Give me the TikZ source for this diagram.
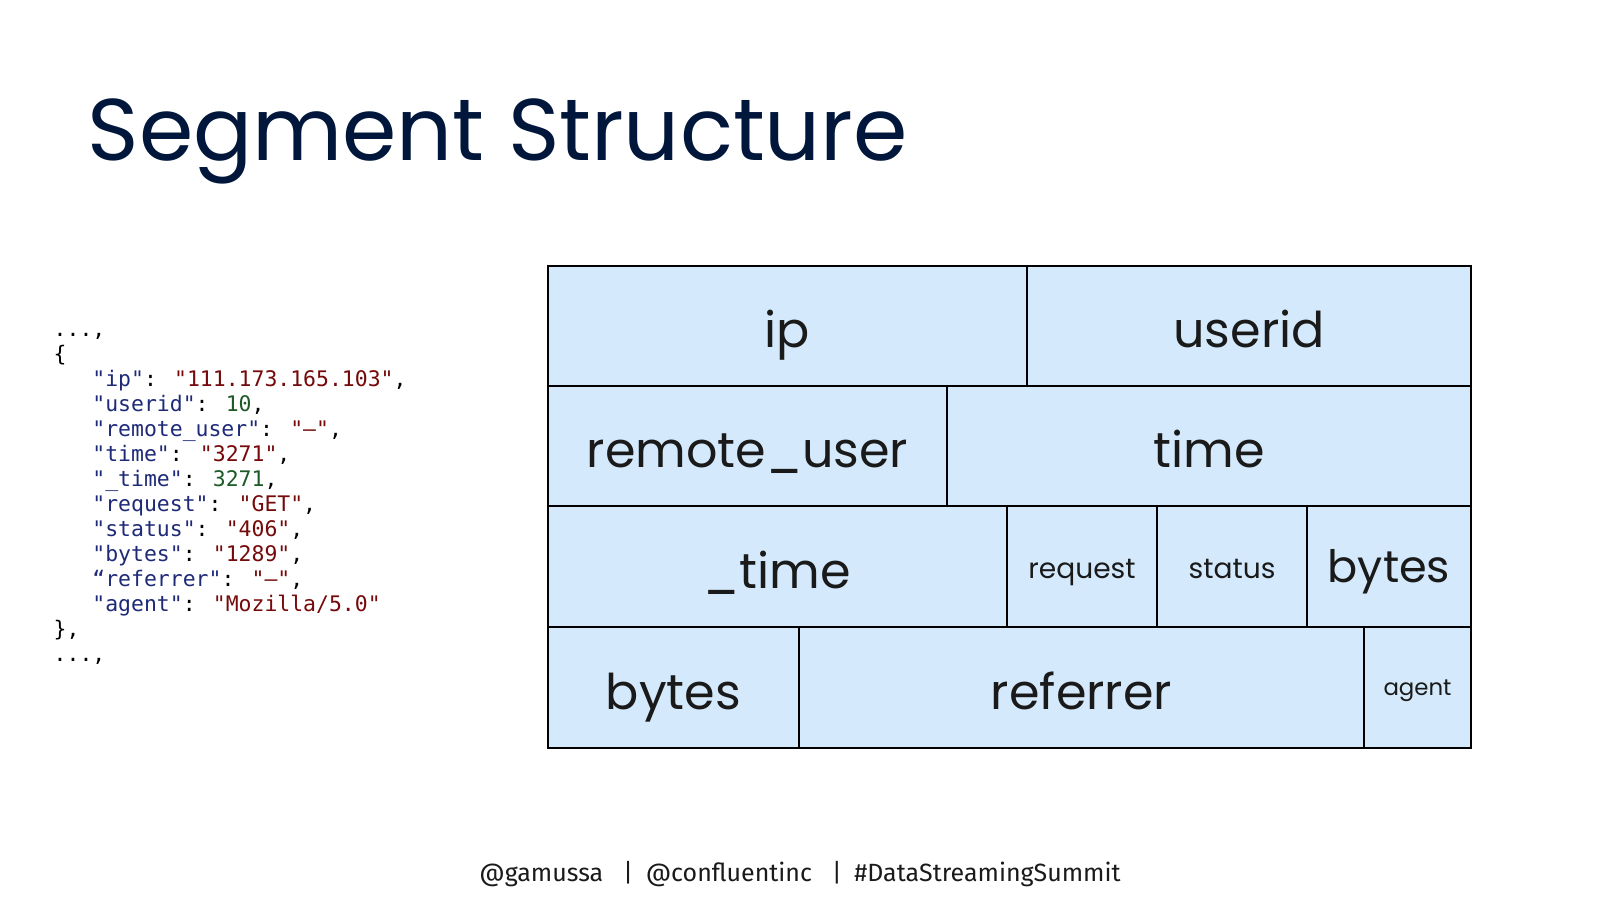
\documentclass[tikz,border=0pt]{standalone}
\usepackage{fontspec}
\usepackage{xcolor}
\usepackage{tikz}
\usetikzlibrary{positioning}

\newfontfamily\cellfont{Poppins}
\newfontfamily\codefont{DejaVu Sans Mono}
\newfontfamily\footfont{Fira Sans}

\definecolor{cellblue}{HTML}{D4EAFC}
\definecolor{titlenavy}{HTML}{00163A}
\definecolor{labelgray}{HTML}{1A1A1A}
\definecolor{keyblue}{HTML}{1E2A78}
\definecolor{strred}{HTML}{760A0A}
\definecolor{numgreen}{HTML}{1C5A26}

\newcommand{\jkey}[1]{\textcolor{keyblue}{#1}}
\newcommand{\jstr}[1]{\textcolor{strred}{#1}}
\newcommand{\jnum}[1]{\textcolor{numgreen}{#1}}
\newcommand{\ind}{\phantom{xxx}}

\tikzset{
    cell/.style = {rectangle, draw=black, line width=0.6pt, fill=cellblue, minimum height=1.2cm, inner sep=0pt, outer sep=0pt, text=labelgray, text centered, text height=0.43cm, text depth=0pt, font=\cellfont\fontsize{14}{16}\selectfont},
    smallcell/.style = {cell, text height=0.24cm, font=\cellfont\fontsize{8}{10}\selectfont},
    tinycell/.style = {cell, text height=0.15cm, font=\cellfont\fontsize{6.5}{8}\selectfont},
    midcell/.style = {cell, text height=0.32cm, font=\cellfont\fontsize{12.7}{15}\selectfont},
    title/.style = {anchor=base west, inner sep=0pt, text=titlenavy, font=\cellfont\fontsize{24.9}{28}\selectfont},
    json/.style = {anchor=west, align=left, inner sep=0pt, font=\codefont\fontsize{6.1}{7.1}\selectfont},
    footer/.style = {anchor=base, inner sep=0pt, text=labelgray, font=\footfont\fontsize{7.1}{9}\selectfont}
}

\begin{document}
\begin{tikzpicture}
    \fill[white] (0,0) rectangle (16,9);
    \useasboundingbox (0,0) rectangle (16,9);

    % Title
    \node [title] (head) at (0.87,7.40) {Segment Structure};

    % JSON record
    \node [json] (record) at (0.53,4.01) {
        ...,\\
        \{\\
        \ind\jkey{"ip"}: \jstr{"111.173.165.103"},\\
        \ind\jkey{"userid"}: \jnum{10},\\
        \ind\jkey{"remote\_user"}: \jstr{"–"},\\
        \ind\jkey{"time"}: \jstr{"3271"},\\
        \ind\jkey{"\_time"}: \jnum{3271},\\
        \ind\jkey{"request"}: \jstr{"GET"},\\
        \ind\jkey{"status"}: \jstr{"406"},\\
        \ind\jkey{"bytes"}: \jstr{"1289"},\\
        \ind\jkey{“referrer"}: \jstr{"–"},\\
        \ind\jkey{"agent"}: \jstr{"Mozilla/5.0"}\\
        \},\\
        ...,
    };

    % Row 1
    \node [cell, minimum width=4.79cm, anchor=north west] (ip) at (5.48,6.34) {ip};
    \node [cell, minimum width=4.44cm, right=0pt of ip] (userid) {userid};

    % Row 2
    \node [cell, minimum width=3.99cm, below=0pt of ip.south west, anchor=north west] (remote) {remote\_user};
    \node [cell, minimum width=5.24cm, right=0pt of remote] (time) {time};

    % Row 3
    \node [cell, minimum width=4.59cm, minimum height=1.21cm, below=0pt of remote.south west, anchor=north west] (utime) {\_time};
    \node [smallcell, minimum width=1.50cm, minimum height=1.21cm, right=0pt of utime] (request) {request};
    \node [smallcell, minimum width=1.50cm, minimum height=1.21cm, right=0pt of request] (status) {status};
    \node [midcell, minimum width=1.64cm, minimum height=1.21cm, right=0pt of status] (bytesa) {bytes};

    % Row 4
    \node [cell, minimum width=2.51cm, minimum height=1.21cm, below=0pt of utime.south west, anchor=north west] (bytesb) {bytes};
    \node [cell, minimum width=5.65cm, minimum height=1.21cm, right=0pt of bytesb] (referrer) {referrer};
    \node [tinycell, minimum width=1.07cm, minimum height=1.21cm, right=0pt of referrer] (agent) {agent};

    % Footer
    \node [footer] (handles) at (8.00,0.19) {@gamussa\hspace{0.8em}|\hspace{0.5em}@confluentinc\hspace{0.8em}|\hspace{0.5em}\#DataStreamingSummit};
\end{tikzpicture}
\end{document}
